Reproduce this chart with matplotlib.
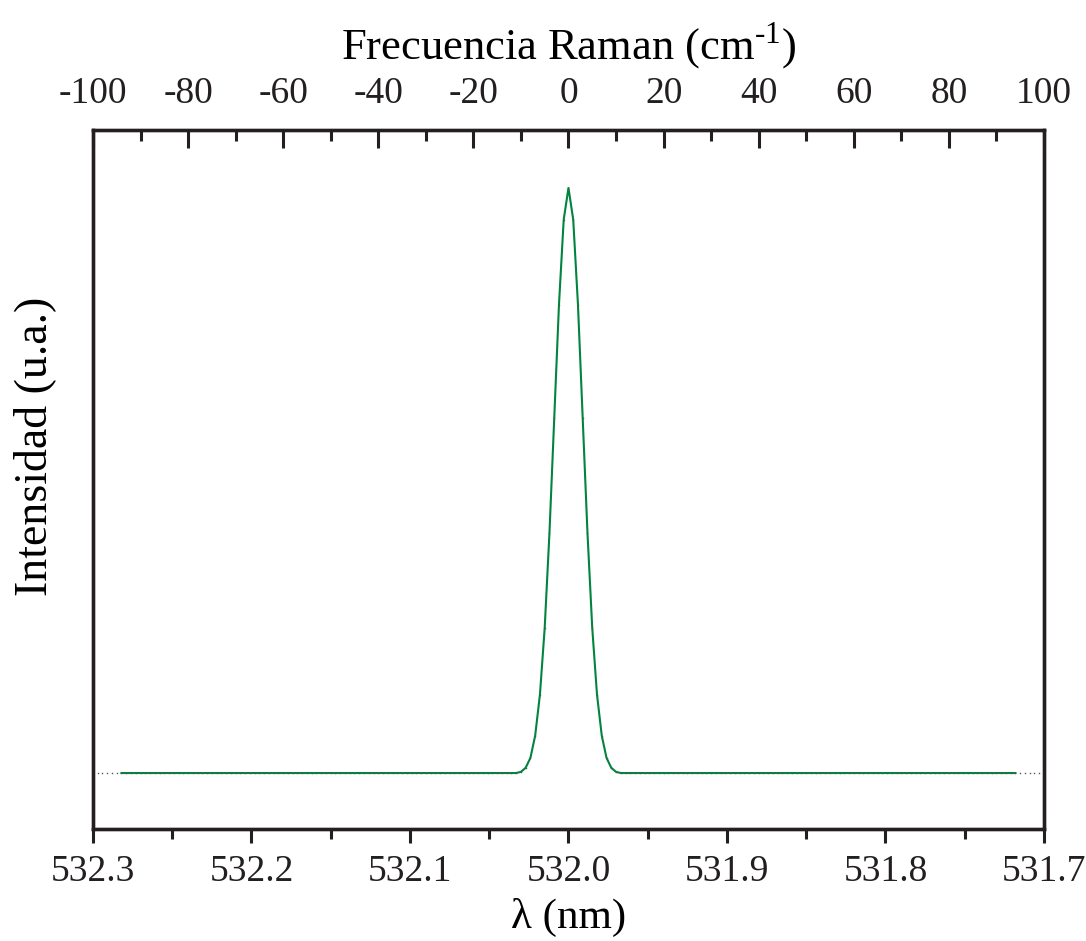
import numpy as np
import matplotlib
matplotlib.use("Agg")
import matplotlib.pyplot as plt
from matplotlib.ticker import MultipleLocator

plt.rcParams['font.family'] = ['Liberation Serif', 'DejaVu Serif']
plt.rcParams['mathtext.fontset'] = 'custom'
plt.rcParams['mathtext.rm'] = 'Liberation Serif'
plt.rcParams['axes.unicode_minus'] = False

# datos
centro_nm = 532.0
paso_nm = 0.003
n_lado = 99            # puntos a cada lado del centro
n_ajuste = 94          # alcance de la curva verde
linea_base = 0.0
# intensidad del pico, desde -10 hasta +10 pasos
pico = [0.002, 0.009, 0.026, 0.064, 0.134, 0.248, 0.410, 0.606, 0.800, 0.946,
        1.000,
        0.946, 0.800, 0.606, 0.410, 0.248, 0.134, 0.064, 0.026, 0.009, 0.002]

k = np.arange(-n_lado, n_lado + 1)
lam = centro_nm + k * paso_nm
inten = np.full(k.size, linea_base)
m = len(pico) // 2
inten[(k >= -m) & (k <= m)] = pico

sel = np.abs(k) <= n_ajuste

color_eje = '#231f20'
fig = plt.figure(figsize=(10.86, 9.41), dpi=100)
ax = fig.add_axes([0.0856, 0.119, 0.8757, 0.7428])

ax.plot(lam[sel], inten[sel], color='#00843f', lw=1.5, zorder=2)
ax.plot(lam, inten, ls='none', marker='s', ms=1.0, mew=0,
        color='#555555', zorder=3)

ax.set_xlim(532.3, 531.7)
ax.set_ylim(-0.0957, 1.099)
ax.xaxis.set_major_locator(MultipleLocator(0.1))
ax.xaxis.set_minor_locator(MultipleLocator(0.05))
ax.xaxis.set_major_formatter(matplotlib.ticker.FormatStrFormatter('%.1f'))
ax.set_yticks([])
ax.tick_params(axis='x', which='major', direction='out', length=10, width=2.2,
               pad=8, labelsize=27, colors=color_eje)
ax.tick_params(axis='x', which='minor', direction='out', length=7, width=2.2,
               colors=color_eje)
for s in ax.spines.values():
    s.set_linewidth(2.4)
    s.set_color(color_eje)

ax.set_xlabel('λ (nm)', fontsize=31, labelpad=7)
ax.set_ylabel('Intensidad (u.a.)', fontsize=33)
ax.yaxis.set_label_coords(-0.039, 0.548)

ax2 = ax.twiny()
ax2.set_xlim(-100, 100)
ax2.xaxis.set_major_locator(MultipleLocator(20))
ax2.xaxis.set_minor_locator(MultipleLocator(10))
ax2.tick_params(axis='x', which='major', direction='in', length=13, width=2.2,
                pad=14, labelsize=27, colors=color_eje)
ax2.tick_params(axis='x', which='minor', direction='in', length=8, width=2.2,
                colors=color_eje)
ax2.set_xlabel(r'Frecuencia Raman (cm$^{\text{-1}}$)', fontsize=32, labelpad=12)
for s in ax2.spines.values():
    s.set_linewidth(2.4)
    s.set_color(color_eje)

fig.savefig('out.png', dpi=100)
